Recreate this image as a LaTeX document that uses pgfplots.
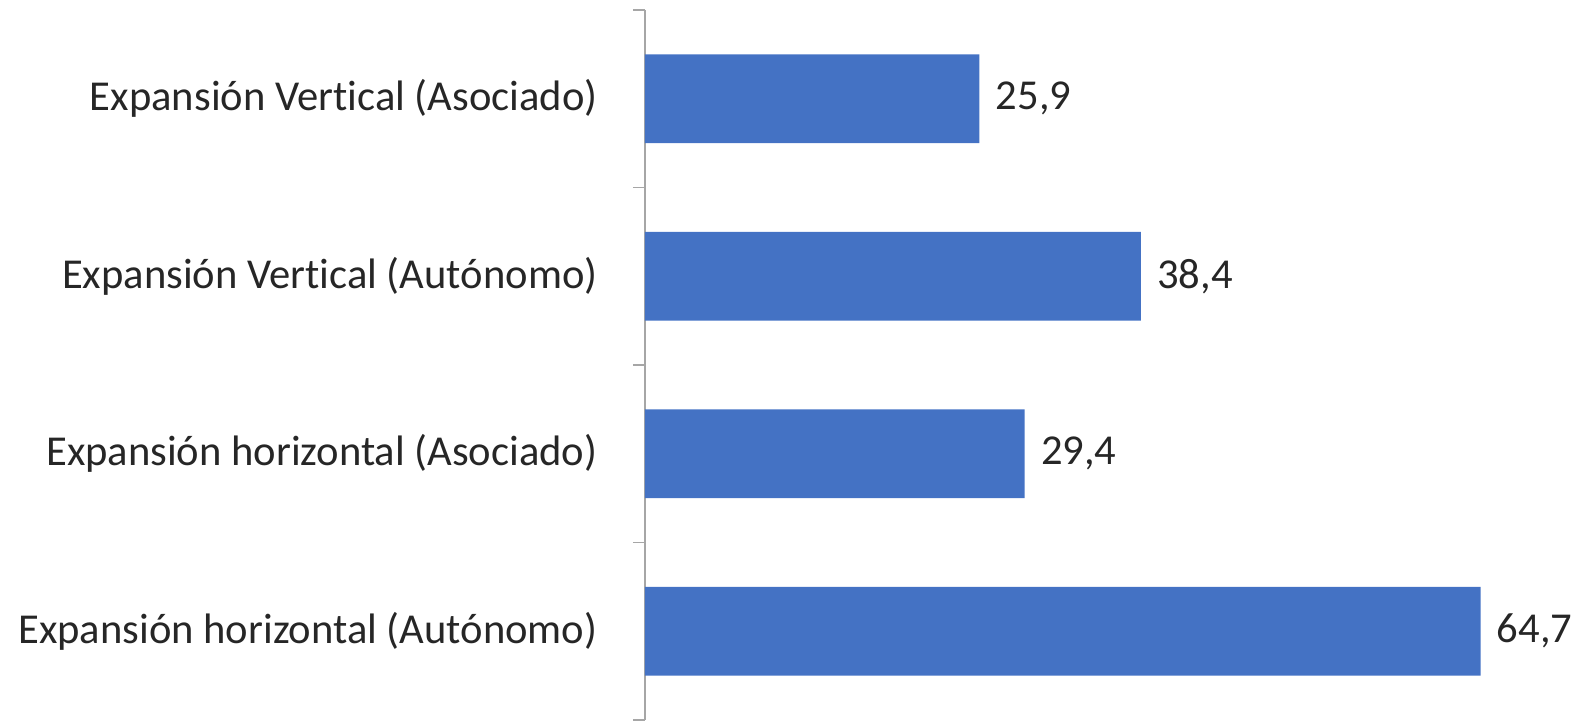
\documentclass[border=0pt]{standalone}
\usepackage{pgfplots}
\pgfplotsset{compat=1.18}
\usepackage{fontspec}
\setmainfont[Ligatures=NoCommon]{Carlito}
\definecolor{barblue}{HTML}{4472C4}
\definecolor{txt}{HTML}{262626}
\definecolor{axisgray}{HTML}{A6A6A6}
\begin{document}
\begin{tikzpicture}
\begin{axis}[
  scale only axis,
  width=452pt, height=355pt,
  xbar, bar width=0.5,
  xmin=0, xmax=70,
  ymin=-0.5, ymax=3.5,
  axis x line=none,
  axis y line*=left,
  y axis line style={axisgray, line width=0.8pt, -},
  ytick={0,1,2,3},
  yticklabels={Expansión horizontal (Autónomo),Expansión horizontal (Asociado),Expansión Vertical (Autónomo),Expansión Vertical (Asociado)},
  major tick length=0pt,
  extra y ticks={-0.5,0.5,1.5,2.5,3.5},
  extra y tick labels={},
  extra y tick style={major tick length=6pt, tick style={axisgray, line width=0.8pt}, tick align=outside},
  yticklabel style={font=\fontsize{21.3}{25}\selectfont, text=txt, anchor=east, inner sep=0pt, xshift=-23.5pt},
  nodes near coords,
  nodes near coords style={font=\fontsize{21.3}{25}\selectfont, text=txt, anchor=west, inner sep=0pt, xshift=8pt,
    /pgf/number format/.cd, fixed, fixed zerofill, precision=1, use comma, assume math mode=true},
  clip=false,
]
\addplot[fill=barblue, draw=none] coordinates {(64.7,0) (29.4,1) (38.4,2) (25.9,3)};
\end{axis}
\pgfresetboundingbox
\path ([xshift=-322.5pt]current axis.south west) rectangle ([xshift=467pt,yshift=360pt]current axis.south west);
\end{tikzpicture}
\end{document}
